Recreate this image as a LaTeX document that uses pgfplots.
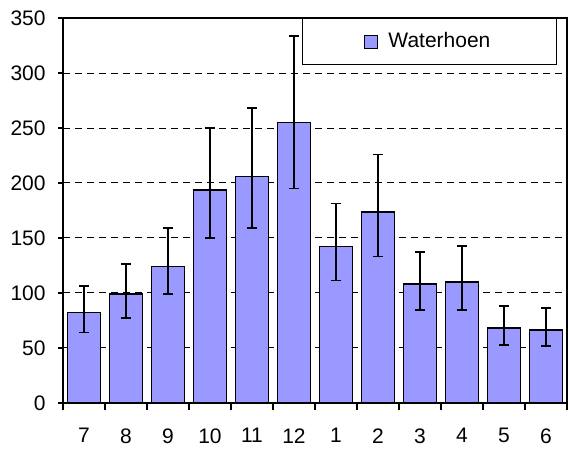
\documentclass[border=0pt]{standalone}
\usepackage{fontspec}
\setmainfont{Liberation Sans}
\usepackage{pgfplots}
\pgfplotsset{compat=1.18}
\definecolor{barblue}{HTML}{9999FF}
\begin{document}
\fontsize{10.5}{12.6}\selectfont
\begin{tikzpicture}
\begin{axis}[
  width=252pt, height=192.5pt, scale only axis,
  xmin=0.5, xmax=12.5, ymin=0, ymax=350,
  ybar, bar width=16.5pt,
  ytick={0,50,...,350},
  xtick={1,...,12},
  xticklabels={7,8,9,10,11,12,1,2,3,4,5,6},
  minor xtick={0.5,1.5,...,12.5},
  major x tick style={draw=none},
  xtick pos=bottom, ytick pos=left,
  tick align=outside,
  major tick length=2.5pt, minor tick length=3.5pt,
  tick style={black, line width=0.6pt},
  axis line style={line width=0.9pt},
  ymajorgrids,
  major grid style={black, line width=0.5pt, dash pattern=on 3.5pt off 2.5pt},
  /pgf/number format/assume math mode=true,
  ticklabel style={font=\fontsize{10.5}{12.6}\selectfont},
  xticklabel style={yshift=-6.5pt},
  yticklabel style={xshift=-2.5pt},
  legend style={at={(rel axis cs:0.980,1)}, anchor=north east,
    draw=black, line width=0.5pt, inner xsep=31pt, inner ysep=5pt,
    font=\fontsize{10.5}{12.6}\selectfont,
    /tikz/every odd column/.append style={column sep=3pt}},
  legend image code/.code={\draw[#1, line width=0.6pt] (0pt,-3.25pt) rectangle (6.5pt,3.25pt);},
]
\addplot[fill=barblue, draw=black, line width=0.8pt,
  error bars/.cd, y dir=both, y explicit,
  error bar style={line width=0.9pt, black},
  error mark options={rotate=90, mark size=2.5pt, line width=0.9pt, black}]
coordinates {
  (1,82.3)  += (0,24.0) -= (0,18.2)
  (2,99.0)  += (0,27.5) -= (0,21.8)
  (3,124.0) += (0,35.0) -= (0,25.0)
  (4,193.5) += (0,56.5) -= (0,43.5)
  (5,206.0) += (0,62.0) -= (0,47.0)
  (6,255.0) += (0,78.6) -= (0,60.0)
  (7,142.2) += (0,39.1) -= (0,30.8)
  (8,173.8) += (0,52.2) -= (0,40.6)
  (9,108.0) += (0,29.0) -= (0,23.5)
  (10,110.0) += (0,33.0) -= (0,25.5)
  (11,68.0) += (0,20.0) -= (0,15.0)
  (12,66.3) += (0,20.0) -= (0,14.5)
};
\addlegendentry{Waterhoen}
\end{axis}
\pgfresetboundingbox
\path (current axis.south west) ++(-31.5pt,-23pt) rectangle ([shift={(1pt,9pt)}]current axis.north east);
\end{tikzpicture}
\end{document}
